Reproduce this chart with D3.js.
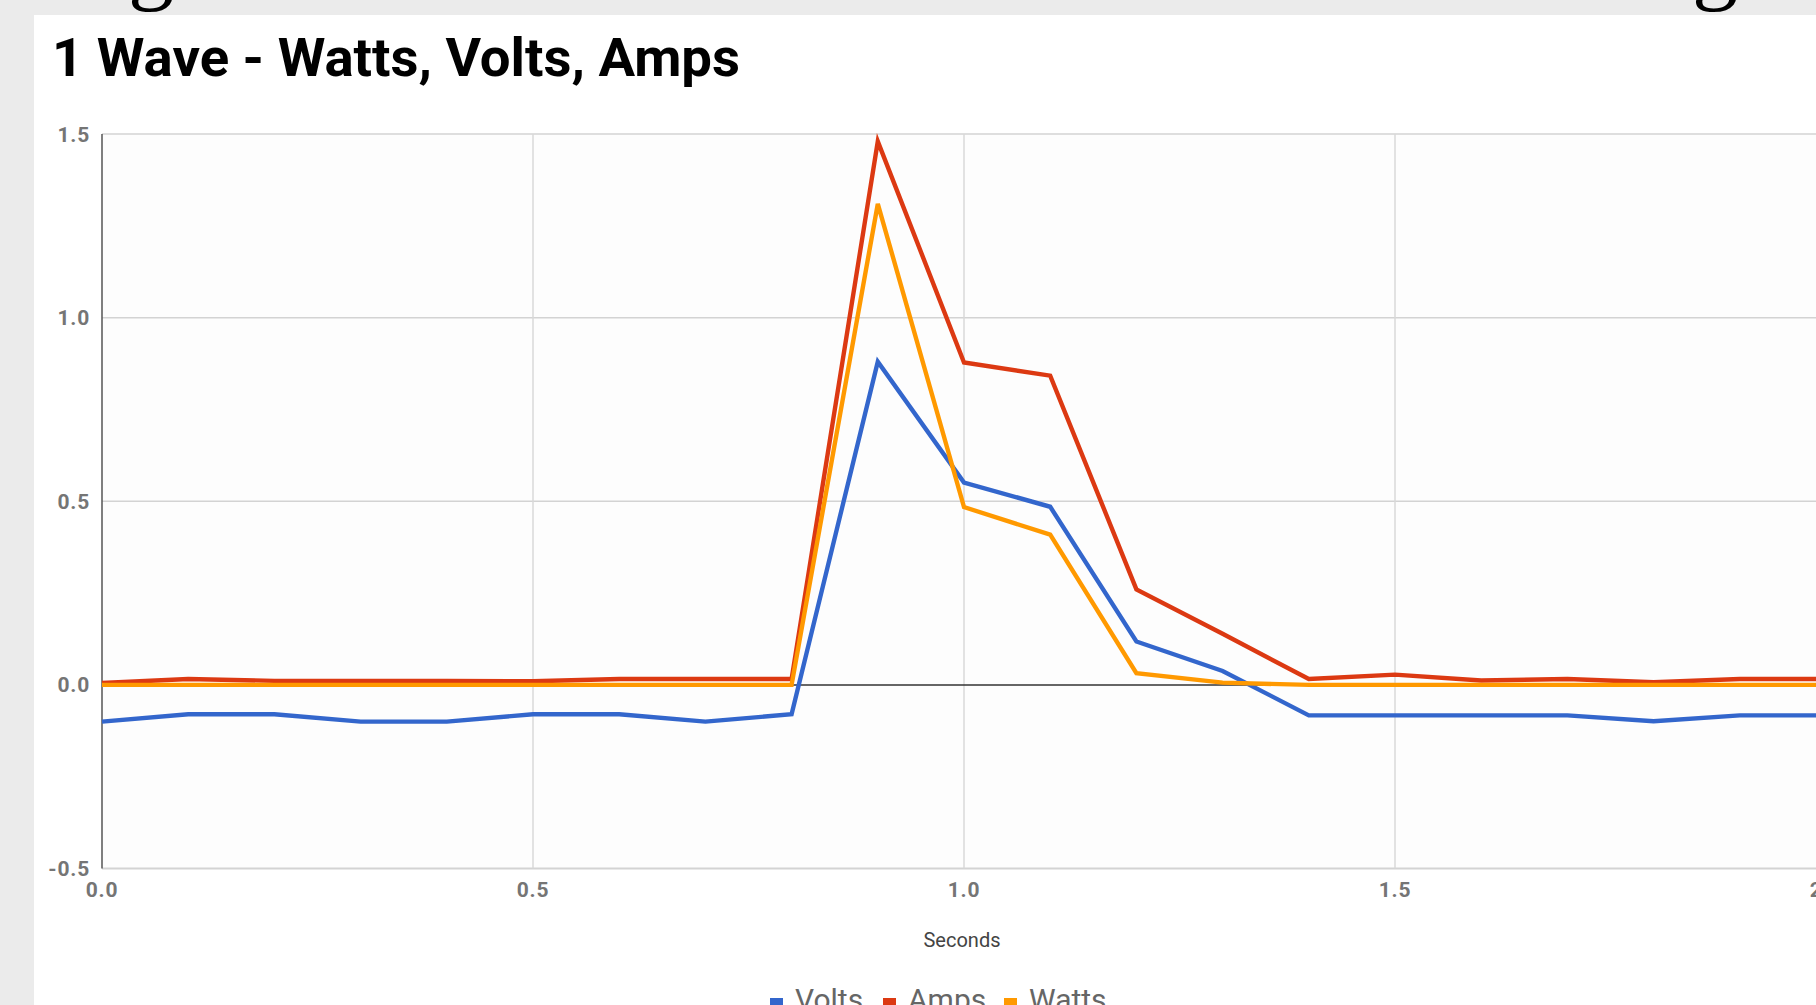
<!DOCTYPE html>
<html>
<head>
<meta charset="utf-8">
<script src="https://cdn.jsdelivr.net/npm/d3@7"></script>
<style>
  html, body { margin: 0; padding: 0; background: #ebebeb; overflow: hidden; }
  svg { display: block; }
</style>
</head>
<body>
<svg id="chart" width="1816" height="1005"></svg>
<script>
const seconds = [0.0, 0.1, 0.2, 0.3, 0.4, 0.5, 0.6, 0.7, 0.8, 0.9, 1.0, 1.1, 1.2, 1.3, 1.4, 1.5, 1.6, 1.7, 1.8, 1.9, 2.0];
const volts = [-0.10, -0.08, -0.08, -0.10, -0.10, -0.08, -0.08, -0.10, -0.08, 0.88, 0.551, 0.485, 0.118, 0.038, -0.083, -0.083, -0.083, -0.083, -0.099, -0.083, -0.083];
const amps  = [0.005, 0.016, 0.011, 0.011, 0.011, 0.010, 0.016, 0.016, 0.016, 1.48, 0.878, 0.842, 0.26, 0.139, 0.016, 0.028, 0.012, 0.016, 0.007, 0.016, 0.016];
const watts = [0, 0, 0, 0, 0, 0, 0, 0, 0, 1.31, 0.484, 0.409, 0.032, 0.006, 0, 0, 0, 0, 0, 0, 0];
const seriesNames = ["Volts", "Amps", "Watts"];
const seriesColors = ["#3366cc", "#dc3912", "#ff9900"];
const xTicks = [0.0, 0.5, 1.0, 1.5, 2.0];
const yTicks = [-0.5, 0.0, 0.5, 1.0, 1.5];
const title = "1 Wave - Watts, Volts, Amps";
const xTitle = "Seconds";

const svg = d3.select("#chart");
const W = 1816, H = 1005;
const fmt = d => d3.format(".1f")(d).replace("\u2212", "-");

// background gray page + white panel
svg.append("rect").attr("x", 0).attr("y", 0).attr("width", W).attr("height", H).attr("fill", "#ebebeb");
svg.append("rect").attr("x", 34).attr("y", 15).attr("width", W - 34).attr("height", H - 15).attr("fill", "#ffffff");

// descenders of large serif text above (cut off)
svg.append("text").attr("x", 128).attr("y", -7).attr("font-family", "Liberation Serif").attr("font-size", 92).attr("fill", "#000").text("g");
svg.append("text").attr("x", 1692).attr("y", -7).attr("font-family", "Liberation Serif").attr("font-size", 92).attr("fill", "#000").text("g");

// title
svg.append("text").attr("x", 52).attr("y", 76)
  .attr("font-family", "Roboto").attr("font-weight", 700).attr("font-size", 54.5)
  .attr("fill", "#000").text(title);

const x = d3.scaleLinear().domain([0, 2]).range([102, 1826]);
const y = d3.scaleLinear().domain([-0.5, 1.5]).range([868.5, 134]);

// plot area background
svg.append("rect").attr("x", 102).attr("y", 134).attr("width", 1826 - 102).attr("height", 868.5 - 134).attr("fill", "#fdfdfd");

// gridlines
const gy = svg.append("g");
gy.selectAll("line.h").data(yTicks.filter(d => d !== 0)).join("line")
  .attr("x1", 102).attr("x2", 1826)
  .attr("y1", d => y(d)).attr("y2", d => y(d))
  .attr("stroke", "#d3d3d3").attr("stroke-width", d => d === -0.5 ? 2 : 1.5);
gy.selectAll("line.v").data(xTicks.filter(d => d !== 0)).join("line")
  .attr("class", "v")
  .attr("x1", d => x(d)).attr("x2", d => x(d))
  .attr("y1", 134).attr("y2", 868.5)
  .attr("stroke", "#d8d8d8").attr("stroke-width", 1.5);

// y axis labels
svg.append("g").selectAll("text").data(yTicks).join("text")
  .attr("x", 90).attr("y", d => y(d) + 7.5)
  .attr("text-anchor", "end")
  .attr("font-family", "Roboto").attr("font-weight", 700).attr("font-size", 21)
  .attr("letter-spacing", 0.8)
  .attr("fill", "#757575")
  .text(fmt);

// x axis labels
svg.append("g").selectAll("text").data(xTicks).join("text")
  .attr("x", d => x(d)).attr("y", 897)
  .attr("text-anchor", "middle")
  .attr("font-family", "Roboto").attr("font-weight", 700).attr("font-size", 21)
  .attr("letter-spacing", 0.8)
  .attr("fill", "#757575")
  .text(fmt);

// x axis title
svg.append("text").attr("x", 962).attr("y", 947)
  .attr("text-anchor", "middle")
  .attr("font-family", "Roboto").attr("font-size", 20)
  .attr("fill", "#444").text(xTitle);

// zero baseline & left axis
svg.append("line").attr("x1", 102).attr("x2", 1826).attr("y1", y(0)).attr("y2", y(0))
  .attr("stroke", "#333").attr("stroke-width", 1.5);
svg.append("line").attr("x1", 102).attr("x2", 102).attr("y1", 134).attr("y2", 868.5)
  .attr("stroke", "#555").attr("stroke-width", 1.5);

// lines
const data = [volts, amps, watts];
const line = d3.line().x((d, i) => x(seconds[i])).y(d => y(d));
svg.append("g").selectAll("path").data(data).join("path")
  .attr("d", d => line(d))
  .attr("fill", "none")
  .attr("stroke", (d, i) => seriesColors[i])
  .attr("stroke-width", 4.4)
  .attr("stroke-linejoin", "miter");

// legend
const legendX = [770, 883, 1004];
const lg = svg.append("g");
seriesNames.forEach((name, i) => {
  lg.append("rect").attr("x", legendX[i]).attr("y", 998).attr("width", 13).attr("height", 13).attr("fill", seriesColors[i]);
  lg.append("text").attr("x", legendX[i] + 25).attr("y", 1010)
    .attr("font-family", "Roboto").attr("font-size", 30).attr("fill", "#666").text(name);
});
</script>
</body>
</html>
